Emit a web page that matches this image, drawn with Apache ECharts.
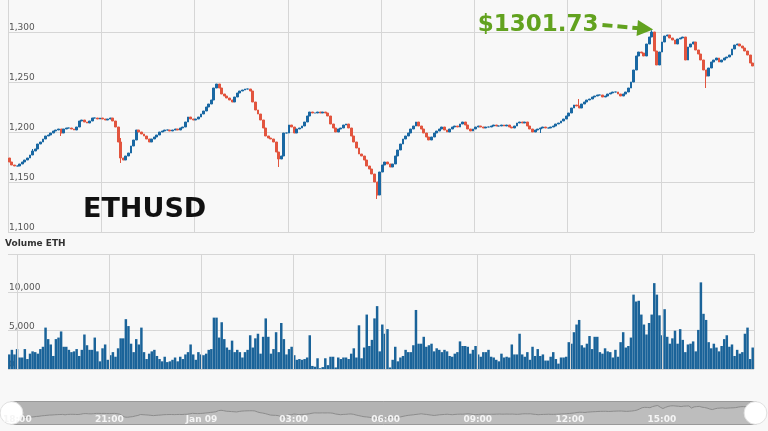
<!DOCTYPE html>
<html><head><meta charset="utf-8">
<script src="https://cdn.jsdelivr.net/npm/echarts@6/dist/echarts.min.js"></script>
<style>html,body{margin:0;padding:0;background:#f8f8f8}#c{width:768px;height:431px}</style>
</head><body><div id="c"></div><script>
// ---- data ----
const tickLabels = ['18:00','21:00','Jan 09','03:00','06:00','09:00','12:00','15:00','18:00'];
const firstOpen = 1174;
const closes = [
  1170,1167,1166,1166,1168,1170,1172,1174,1177,1181,1183,1188,
  1190,1193,1196,1197,1199,1201,1202,1203,1199,1203,1204,1204,
  1203,1202,1205,1211,1212,1210,1209,1211,1214,1214,1213,1214,
  1213,1212,1213,1214,1211,1205,1190,1174,1172,1176,1179,1186,
  1192,1202,1200,1198,1196,1193,1190,1193,1195,1197,1200,1201,
  1202,1202,1201,1202,1203,1202,1204,1205,1210,1215,1213,1212,
  1213,1215,1218,1221,1225,1228,1232,1244,1248,1244,1238,1236,
  1234,1232,1230,1235,1239,1241,1242,1243,1243,1241,1230,1222,
  1218,1212,1204,1196,1194,1193,1190,1180,1173,1176,1199,1199,
  1207,1205,1199,1203,1204,1206,1210,1216,1220,1219,1219,1220,
  1219,1220,1219,1216,1208,1204,1200,1203,1204,1207,1208,1204,
  1196,1190,1184,1178,1176,1172,1166,1163,1158,1150,1137,1160,
  1167,1170,1168,1165,1168,1176,1182,1188,1193,1196,1199,1203,
  1206,1210,1206,1203,1199,1195,1192,1195,1199,1201,1203,1205,
  1202,1200,1203,1205,1206,1205,1208,1210,1207,1203,1201,1203,
  1205,1206,1205,1204,1205,1205,1206,1207,1206,1206,1207,1206,
  1207,1205,1204,1206,1209,1210,1209,1210,1206,1203,1200,1202,
  1203,1204,1205,1204,1204,1205,1206,1208,1209,1211,1213,1216,
  1219,1224,1227,1226,1224,1228,1230,1232,1233,1235,1236,1237,
  1237,1235,1236,1238,1239,1240,1240,1238,1236,1238,1240,1244,
  1250,1262,1276,1280,1279,1276,1288,1295,1300,1281,1267,1280,
  1290,1296,1297,1294,1292,1288,1293,1294,1295,1272,1285,1288,
  1290,1282,1278,1272,1262,1256,1264,1270,1272,1274,1270,1272,
  1274,1275,1277,1283,1287,1288,1286,1284,1281,1277,1269,1266
];
const wickHighs = [[248, 1301.73], [220, 1233], [43, 1194], [9, 1183]];
const wickLows = [[104, 1165], [142, 1133], [269, 1244], [43, 1169], [20, 1196], [205, 1199]];
const volumes = [
  1900,2500,1900,2600,1500,1500,2600,1300,2000,2300,
  2200,2000,2600,2900,5400,3900,3200,1700,3900,4100,
  4900,2900,2900,2500,2200,2300,2600,1700,2500,4500,
  3100,2500,2500,4100,2300,1000,2700,3200,1200,1800,
  2200,1600,2700,4000,4000,6500,5600,3300,2200,3900,
  3200,5400,2200,1300,2000,2300,2500,1700,1300,1000,
  1600,900,1000,1200,1500,1000,1600,1300,1900,2200,
  3200,1900,1200,2200,1900,1800,2000,2500,2600,6700,
  6700,4100,6100,3900,2800,2500,3700,2200,2500,2200,
  1500,2200,2500,4400,2800,4000,4600,2000,4200,6600,
  4200,2000,2600,4800,2200,6000,3900,1900,2600,2900,
  1800,1200,1300,1200,1300,1500,4400,400,300,1400,
  100,250,1400,500,1600,1600,200,1500,1300,1500,
  1500,1300,2000,2700,1500,5700,1400,2800,7100,3000,
  3800,6600,8200,2300,5800,4600,
  5200,200,1200,2900,1000,1500,1700,2500,2200,2200,3100,
  7700,3300,3300,4200,2900,3100,3300,2300,2700,2500,
  2200,2500,2300,1700,1600,2000,2200,3600,3000,3000,
  2900,2000,2500,3000,1900,1600,2200,2200,2500,1600,
  1500,1200,1000,2000,1500,1600,1500,3200,1900,1900,
  4600,1900,1600,2200,1200,2900,1700,2600,1700,1900,
  1100,1100,1600,2200,1300,700,1500,1500,1600,3500,
  3300,4800,5800,6400,3100,2800,3300,4300,2600,4200,
  4200,2200,2000,2700,2300,2200,1500,2500,1600,3500,
  4800,2800,3000,4100,9700,8800,8900,7100,5800,4500,
  6000,7100,11200,9700,7000,4400,7800,4200,3300,4000,
  5000,3300,5200,3800,2200,3200,3300,3600,2300,5100,
  11300,7200,6400,3500,2700,3300,2800,2300,3000,3900,
  4400,2900,3200,1700,2500,2000,2200,4600,5400,1300,2800
];
const peakLabel = '$1301.73';
const peakIndex = 248, peakValue = 1301.73;
const arrowFrom = [229, 1307];

// ---- build ----
const N = closes.length;
const categories = [];
for (let i = 0; i < N; i++) {
  const tot = 18 * 60 + i * 5;
  const m = tot % 1440;
  const day = tot >= 1440 ? '09' : '08';
  categories.push('Jan ' + day + ' ' + String(Math.floor(m / 60)).padStart(2, '0') + ':' + String(m % 60).padStart(2, '0'));
}
const hiMap = Object.fromEntries(wickHighs), loMap = Object.fromEntries(wickLows);
const candles = closes.map((c, i) => {
  const o = i === 0 ? firstOpen : closes[i - 1];
  const hi = hiMap[i] != null ? hiMap[i] : Math.max(o, c);
  const lo = loMap[i] != null ? loMap[i] : Math.min(o, c);
  return [o, c, lo, hi];
});

const FONT = 'DejaVu Sans';
const GRIDC = '#d6d6d6';
const L = 8, R = 14;
const green = '#62a21f';
const PRICE_TOP = 1332;

const chart = echarts.init(document.getElementById('c'), null, {renderer: 'canvas'});
chart.setOption({
  animation: false,
  backgroundColor: '#f8f8f8',
  textStyle: {fontFamily: FONT},
  title: [
    {text: 'ETHUSD', left: 83, top: 196, padding: 0,
     textStyle: {fontFamily: FONT, fontSize: 27, fontWeight: 'bold', color: '#111'}},
    {text: 'Volume ETH', left: 5, top: 239, padding: 0,
     textStyle: {fontFamily: FONT, fontSize: 9, fontWeight: 'bold', color: '#333'}}
  ],
  grid: [
    {left: L, right: R, top: 32, height: 200},
    {left: L, right: R, top: 254, height: 115},
    {left: L, right: R, top: 0, height: 232},
    {left: L, right: R, top: 254, height: 115}
  ],
  xAxis: [
    {type: 'category', gridIndex: 0, data: categories, show: false, boundaryGap: true},
    {type: 'category', gridIndex: 1, data: categories, show: false, boundaryGap: true},
    {type: 'value', gridIndex: 2, min: 0, max: N, interval: 36,
     axisLine: {show: false}, axisTick: {show: false}, axisLabel: {show: false},
     splitLine: {show: true, lineStyle: {color: GRIDC, width: 1}}},
    {type: 'value', gridIndex: 3, min: 0, max: N, interval: 36, z: 10,
     axisLine: {show: false}, axisTick: {show: false},
     axisLabel: {show: true, margin: 46, fontSize: 9, fontWeight: 'bold', color: '#f5f5f5',
       fontFamily: FONT, showMaxLabel: false,
       formatter: v => v >= N ? '' : tickLabels[Math.round(v / 36)]},
     splitLine: {show: true, lineStyle: {color: GRIDC, width: 1}}}
  ],
  yAxis: [
    {type: 'value', gridIndex: 0, min: 1100, max: 1300, interval: 50,
     axisLine: {show: false}, axisTick: {show: false},
     splitLine: {lineStyle: {color: GRIDC, width: 1}},
     axisLabel: {inside: true, margin: 1, verticalAlign: 'bottom', fontSize: 9, color: '#555',
       fontFamily: FONT, formatter: v => v.toLocaleString('en-US')}},
    {type: 'value', gridIndex: 1, min: 0, max: 15000, interval: 5000,
     axisLine: {show: false}, axisTick: {show: false},
     splitLine: {lineStyle: {color: GRIDC, width: 1}},
     axisLabel: {inside: true, margin: 1, verticalAlign: 'bottom', fontSize: 9, color: '#555',
       fontFamily: FONT, formatter: v => v >= 15000 ? '' : v.toLocaleString('en-US')}},
    {type: 'value', gridIndex: 2, min: 1100, max: PRICE_TOP, show: false},
    {type: 'value', gridIndex: 3, min: 0, max: 1, show: false}
  ],
  dataZoom: [{
    type: 'slider', xAxisIndex: [0, 1], left: L, right: R, top: 401, height: 24,
    start: 0, end: 100, showDetail: false, brushSelect: false, moveHandleSize: 0,
    backgroundColor: '#b3b3b3', fillerColor: 'rgba(0,0,0,0)', borderColor: '#999',
    handleIcon: 'circle', handleSize: '95%',
    handleStyle: {color: '#ffffff', borderColor: '#e0e0e0', borderWidth: 1},
    dataBackground: {lineStyle: {color: '#8c8c8c', width: 1, opacity: 1}, areaStyle: {color: '#bdbdbd', opacity: 1}},
    selectedDataBackground: {lineStyle: {color: '#8c8c8c', width: 1, opacity: 1}, areaStyle: {color: '#bdbdbd', opacity: 1}},
    textStyle: {color: 'transparent'}
  }],
  series: [
    {type: 'candlestick', xAxisIndex: 0, yAxisIndex: 0, data: candles, barWidth: '92%', clip: false,
     itemStyle: {color: '#1a68a3', color0: '#e2553f', borderColor: '#1a68a3', borderColor0: '#e2553f', borderWidth: 1}},
    {type: 'bar', xAxisIndex: 1, yAxisIndex: 1, data: volumes, barWidth: '96%',
     itemStyle: {color: '#1a6399'}},
    {type: 'line', xAxisIndex: 2, yAxisIndex: 2, data: [], silent: true, z: 5,
     markLine: {
       silent: true, animation: false, symbol: ['none', 'triangle'], symbolSize: 16,
       itemStyle: {color: green},
       lineStyle: {color: green, width: 4, type: [10, 5]},
       label: {show: true, position: 'start', formatter: peakLabel, color: green,
         fontFamily: FONT, fontSize: 23, fontWeight: 'bold', distance: 4},
       data: [[{coord: [arrowFrom[0] + 0.5, arrowFrom[1]]}, {coord: [peakIndex - 2, peakValue + 1.5]}]]
     }}
  ]
});
</script></body></html>
